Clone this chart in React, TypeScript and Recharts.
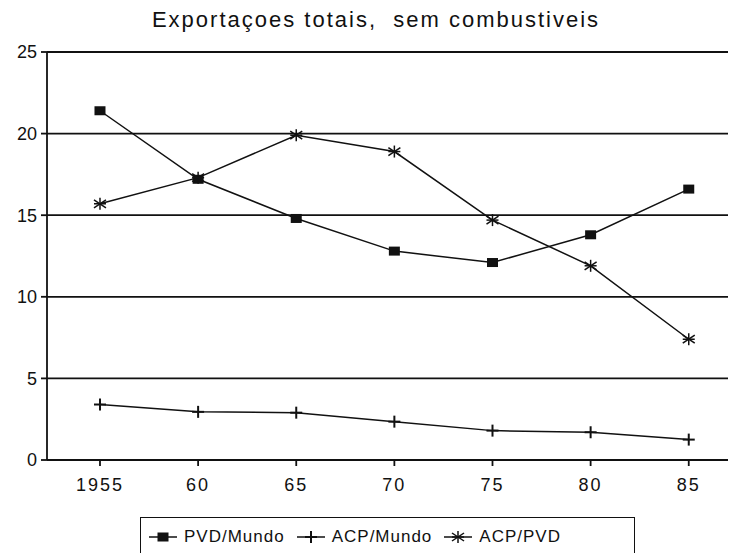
import React from "react";
import { LineChart, Line, XAxis, YAxis, CartesianGrid } from "recharts";

// valores (percentagens)
const years = [1955, 1960, 1965, 1970, 1975, 1980, 1985];
const yearLabels = ["1955", "60", "65", "70", "75", "80", "85"];
const pvdMundo = [21.4, 17.2, 14.8, 12.8, 12.1, 13.8, 16.6];
const acpMundo = [3.4, 2.95, 2.9, 2.35, 1.8, 1.7, 1.25];
const acpPvd = [15.7, 17.3, 19.9, 18.9, 14.7, 11.9, 7.4];
const yTicks = [0, 5, 10, 15, 20, 25];

const FONT = "'Liberation Sans', Arial, sans-serif";
const INK = "#111";

const data = years.map((year, i) => ({
  year,
  pvd: pvdMundo[i],
  acp: acpMundo[i],
  acpPvd: acpPvd[i],
}));

const Square = ({ cx, cy }: { cx: number; cy: number }) => (
  <rect x={cx - 5.5} y={cy - 4.5} width={11} height={9} fill={INK} />
);

const Plus = ({ cx, cy }: { cx: number; cy: number }) => (
  <g stroke={INK} strokeWidth={2}>
    <line x1={cx - 6} y1={cy} x2={cx + 6} y2={cy} />
    <line x1={cx} y1={cy - 6} x2={cx} y2={cy + 6} />
  </g>
);

const Star = ({ cx, cy }: { cx: number; cy: number }) => (
  <g stroke={INK} strokeWidth={1.5}>
    <line x1={cx - 6} y1={cy - 4} x2={cx + 6} y2={cy + 4} />
    <line x1={cx - 6} y1={cy + 4} x2={cx + 6} y2={cy - 4} />
    <line x1={cx} y1={cy - 6} x2={cx} y2={cy + 6} />
    <line x1={cx - 6} y1={cy} x2={cx + 6} y2={cy} />
  </g>
);

const dotFor = (Marker: any) => (props: any) =>
  <Marker key={`m-${props.index}`} cx={props.cx} cy={props.cy} />;

const LegendItem = ({ Marker, label }: { Marker: any; label: string }) => (
  <span style={{ display: "inline-flex", alignItems: "center", marginRight: 10 }}>
    <svg width={32} height={16}>
      <line x1={2} y1={8} x2={30} y2={8} stroke={INK} strokeWidth={1.5} />
      <Marker cx={16} cy={8} />
    </svg>
    <span style={{ marginLeft: 5 }}>{label}</span>
  </span>
);

export default function App() {
  return (
    <div style={{ position: "absolute", left: 0, top: 0, width: 730, height: 553, background: "#fff", overflow: "hidden", fontFamily: FONT, color: INK }}>
      <div style={{ position: "absolute", top: 7, left: 0, width: 752, textAlign: "center", fontSize: 22, letterSpacing: 2, whiteSpace: "pre" }}>
        Exportaçoes totais,  sem combustiveis
      </div>
      <LineChart width={730} height={553} data={data} margin={{ top: 52, right: 2, bottom: 63, left: 0 }}>
        <CartesianGrid vertical={false} stroke={INK} strokeWidth={1.8} />
        <XAxis
          type="number"
          dataKey="year"
          domain={[1952.3, 1987]}
          ticks={years}
          allowDataOverflow
          tickFormatter={(v: number) => yearLabels[years.indexOf(v)]}
          height={30}
          stroke={INK}
          strokeWidth={1.8}
          tickSize={6}
          tickMargin={12}
          tick={{ fill: INK, fontSize: 18, fontFamily: FONT, letterSpacing: 2 }}
        />
        <YAxis
          domain={[0, 25]}
          ticks={yTicks}
          width={47}
          stroke={INK}
          strokeWidth={1.8}
          tickSize={6}
          tickMargin={4}
          tick={{ fill: INK, fontSize: 18, fontFamily: FONT }}
        />
        <Line dataKey="pvd" stroke={INK} strokeWidth={1.5} dot={dotFor(Square)} isAnimationActive={false} />
        <Line dataKey="acp" stroke={INK} strokeWidth={1.5} dot={dotFor(Plus)} isAnimationActive={false} />
        <Line dataKey="acpPvd" stroke={INK} strokeWidth={1.5} dot={dotFor(Star)} isAnimationActive={false} />
      </LineChart>
      <div style={{ position: "absolute", left: 140, top: 517, width: 495, height: 50, border: `1.5px solid ${INK}`, fontSize: 17, letterSpacing: 1, display: "flex", alignItems: "flex-start", paddingTop: 9, paddingLeft: 6, boxSizing: "border-box" }}>
        <LegendItem Marker={Square} label="PVD/Mundo" />
        <LegendItem Marker={Plus} label="ACP/Mundo" />
        <LegendItem Marker={Star} label="ACP/PVD" />
      </div>
    </div>
  );
}
